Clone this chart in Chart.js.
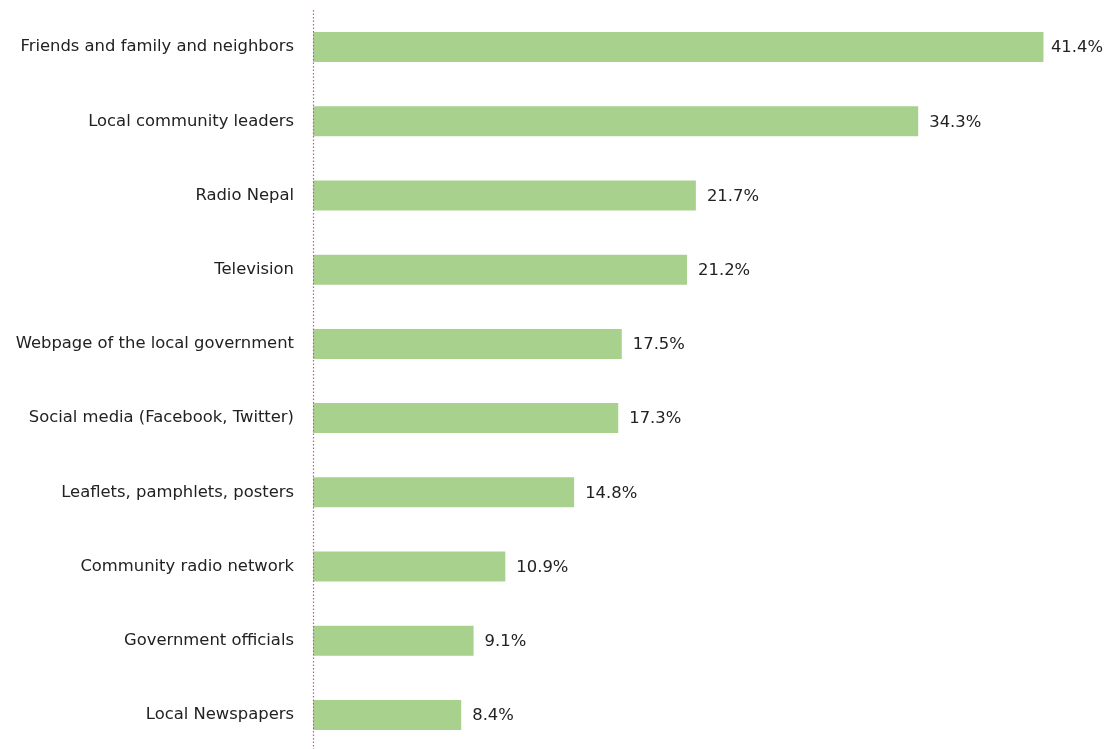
<!DOCTYPE html>
<html>
<head>
<meta charset="utf-8">
<script src="https://cdn.jsdelivr.net/npm/chart.js@4/dist/chart.umd.min.js"></script>
<style>
  html, body { margin: 0; padding: 0; background: #fff; overflow: hidden; }
  #wrap { position: relative; width: 1108px; height: 752px; }
</style>
</head>
<body>
<div id="wrap"><canvas id="chart"></canvas></div>
<script>
// Fuentes de informacion (porcentaje de encuestados)
const sources = [
    'Friends and family and neighbors',
    'Local community leaders',
    'Radio Nepal',
    'Television',
    'Webpage of the local government',
    'Social media (Facebook, Twitter)',
    'Leaflets, pamphlets, posters',
    'Community radio network',
    'Government officials',
    'Local Newspapers'
];
const shares = [41.4, 34.3, 21.7, 21.2, 17.5, 17.3, 14.8, 10.9, 9.1, 8.4];

const FONT = '"DejaVu Sans", sans-serif';
const FONT_SIZE = 16.4;

// Eje vertical punteado desde arriba hasta el borde inferior
const dottedAxis = {
    id: 'dottedAxis',
    afterDatasetsDraw(chart) {
        const { ctx, chartArea } = chart;
        const x = Math.round(chartArea.left) + 0.5;
        ctx.save();
        ctx.strokeStyle = '#d0509a';
        ctx.lineWidth = 1.2;
        ctx.setLineDash([1.5, 2]);
        ctx.beginPath();
        ctx.moveTo(x, chartArea.top);
        ctx.lineTo(x, chart.height);
        ctx.stroke();
        ctx.restore();
    }
};

// Etiqueta de valor al final de cada barra
const valueLabels = {
    id: 'valueLabels',
    afterDatasetsDraw(chart) {
        const ctx = chart.ctx;
        const meta = chart.getDatasetMeta(0);
        ctx.save();
        ctx.font = FONT_SIZE + 'px ' + FONT;
        ctx.fillStyle = '#222';
        ctx.textBaseline = 'middle';
        ctx.textAlign = 'left';
        meta.data.forEach((bar, i) => {
            const txt = shares[i].toFixed(1) + '%';
            const w = ctx.measureText(txt).width;
            let x = bar.x + 11;
            if (x + w > chart.width - 5) x = chart.width - 5 - w;
            ctx.fillText(txt, x, bar.y + 1);
        });
        ctx.restore();
    }
};

new Chart(document.getElementById('chart'), {
    type: 'bar',
    data: {
        labels: sources,
        datasets: [{
            data: shares,
            backgroundColor: '#a9d18e',
            borderWidth: 0,
            barPercentage: 0.404,
            categoryPercentage: 1
        }]
    },
    options: {
        indexAxis: 'y',
        responsive: true,
        maintainAspectRatio: false,
        animation: false,
        layout: { padding: { top: 10, right: 1, bottom: 0, left: 0 } },
        scales: {
            x: { display: false, min: 0, max: 45 },
            y: {
                afterFit: s => { s.width = 313; s.paddingTop = 0; s.paddingBottom = 0; },
                grid: { display: false, drawTicks: false },
                border: { display: false },
                ticks: { color: '#222', padding: 19, font: { family: FONT, size: FONT_SIZE } }
            }
        },
        plugins: { legend: { display: false }, tooltip: { enabled: false } }
    },
    plugins: [valueLabels, dottedAxis]
});
</script>
</body>
</html>
